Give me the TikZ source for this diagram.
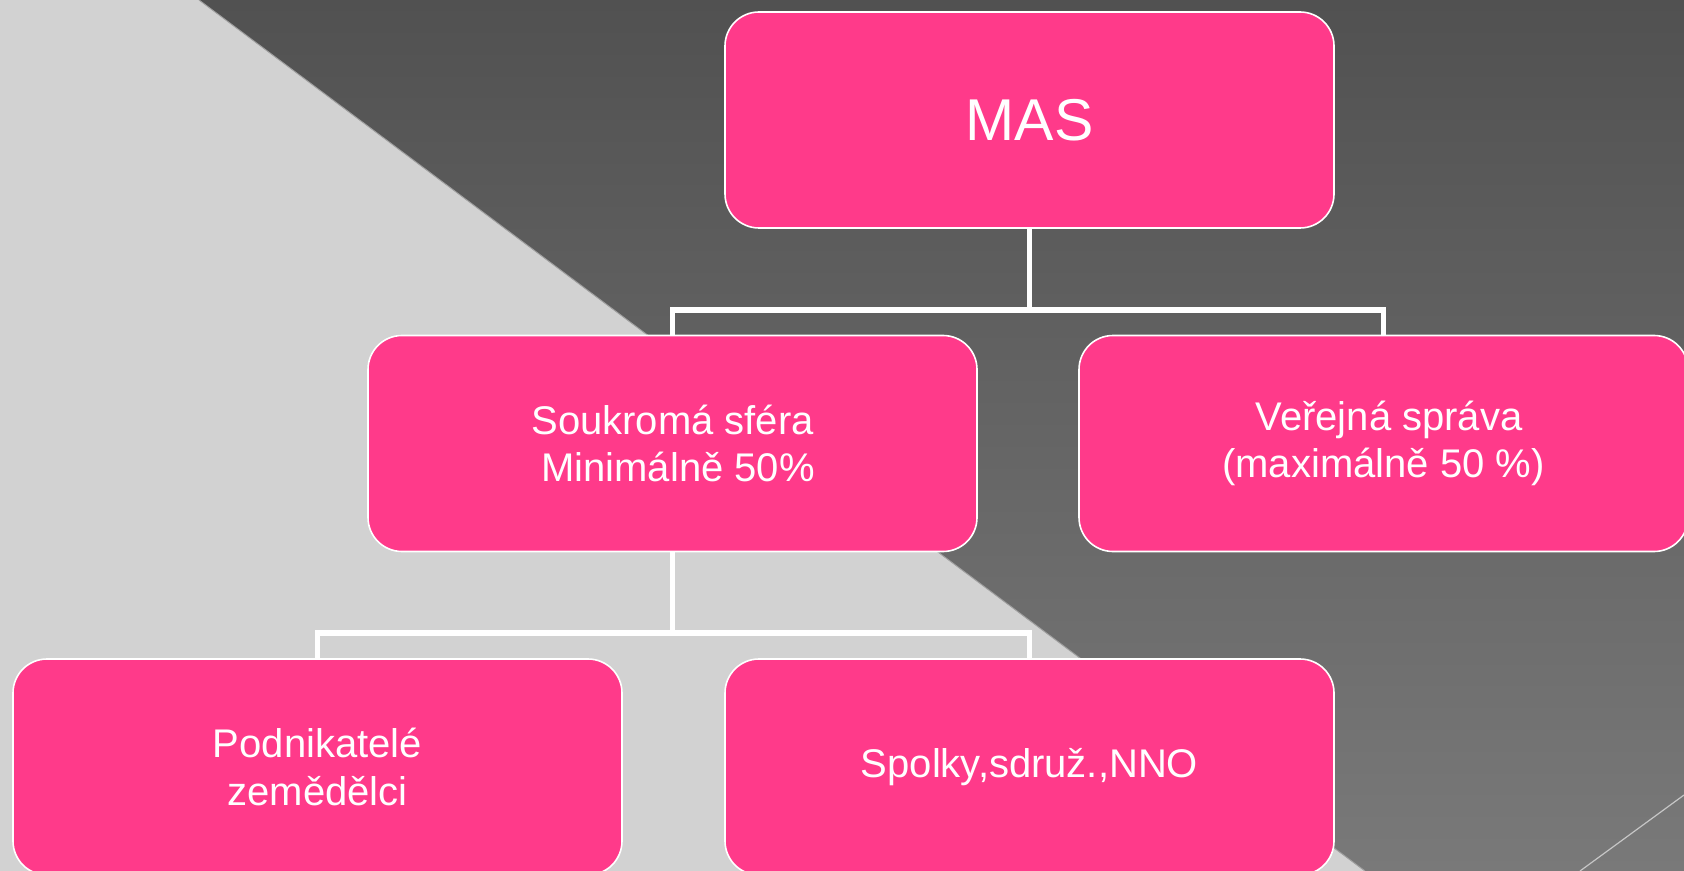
\documentclass[tikz,border=0pt]{standalone}
\usepackage{fontspec}
\setmainfont{Liberation Sans}
\definecolor{boxpink}{HTML}{FF3A8A}
\definecolor{lightbg}{HTML}{D2D2D2}
\definecolor{darktop}{HTML}{515151}
\definecolor{darkbot}{HTML}{797979}
\tikzset{
  orgbox/.style={draw=white, line width=0.8pt, fill=boxpink, rounded corners=17pt,
    minimum width=304.5pt, minimum height=108pt, text=white, align=center,
    font=\fontsize{20pt}{23.8pt}\selectfont, inner sep=0pt},
  link/.style={draw=white, line width=2.6pt}
}
\begin{document}
\begin{tikzpicture}[x=0.5pt,y=-0.5pt]
\useasboundingbox (0,0) rectangle (1684,871);
\clip (0,0) rectangle (1684,871);
% background
\fill[lightbg] (0,0) rectangle (1684,871);
\shade[top color=darktop, bottom color=darkbot] (199,0) -- (1684,0) -- (1684,871) -- (1365,871) -- cycle;
\draw[gray!75, line width=0.5pt] (199,0) -- (1365,871);
\draw[gray!45, line width=0.6pt] (1684,795) -- (1580,871);
% nodes
\node[orgbox, font=\fontsize{29.5pt}{34pt}\selectfont] (mas) at (1029.5,120) {MAS};
\node[orgbox] (souk) at (672.5,443.5) {Soukromá sféra\\ \ Minimálně 50\%};
\node[orgbox] (ver) at (1383.5,443.5) {\ Veřejná správa\\(maximálně 50 \%)};
\node[orgbox] (podn) at (317.5,767) {Podnikatelé\\zemědělci};
\node[orgbox] (spol) at (1029.5,767) {Spolky,sdruž.,NNO};
% connectors
\coordinate (j1) at (1029.5,310);
\coordinate (j2) at (672.5,633);
\draw[link] (mas.south) -- (j1);
\draw[link] (j1) -| (souk.north);
\draw[link] (j1) -| (ver.north);
\draw[link] (souk.south) -- (j2);
\draw[link] (j2) -| (podn.north);
\draw[link] (j2) -| (spol.north);
\end{tikzpicture}
\end{document}
